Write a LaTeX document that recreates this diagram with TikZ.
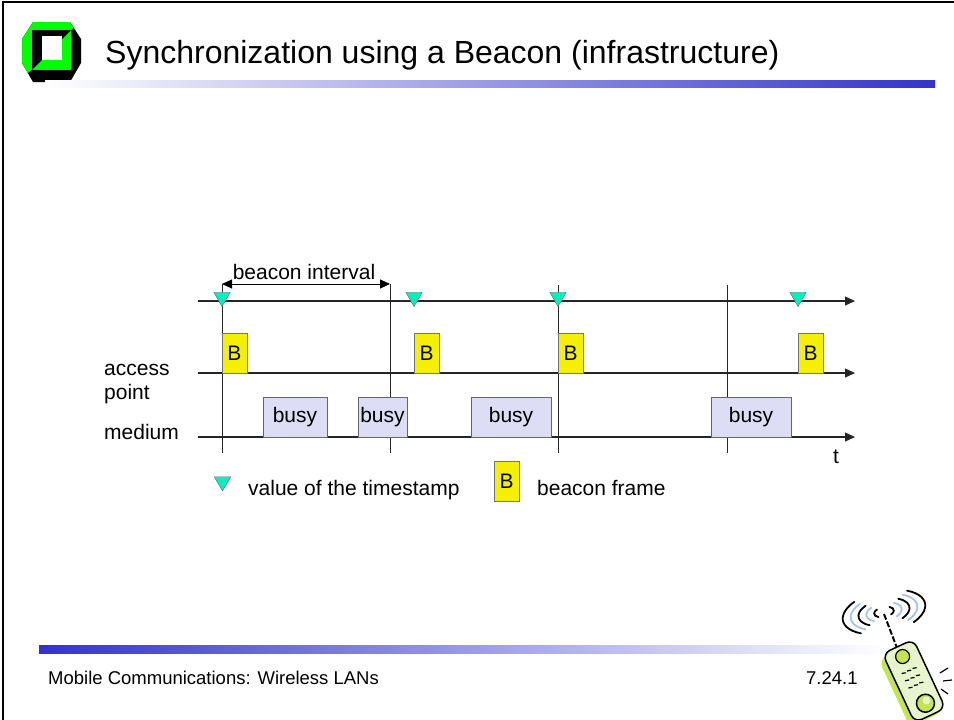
\documentclass[tikz,border=0pt]{standalone}
\usepackage{fontspec}
\setmainfont{Liberation Sans}
\usetikzlibrary{arrows.meta, shapes.geometric}
\definecolor{stampcyan}{RGB}{0, 240, 190}
\definecolor{beaconyellow}{RGB}{245, 240, 0}
\definecolor{busyblue}{RGB}{221, 221, 246}
\definecolor{barblue}{RGB}{51, 51, 204}
\definecolor{logogreen}{RGB}{0, 255, 0}
\definecolor{phonelight}{RGB}{232, 244, 205}
\definecolor{phonegreen}{RGB}{196, 228, 80}
\definecolor{waveblue}{RGB}{165, 195, 240}

\begin{document}
\begin{tikzpicture}[x=1pt, y=-1pt,
  every node/.style={inner sep=0pt},
  txt/.style={font=\fontsize{21}{24}\selectfont},
  axis/.style={line width=1.1pt, draw=black!85, -{Triangle[length=10pt, width=9pt]}},
  vline/.style={line width=1pt, draw=black!85},
  dimarr/.style={line width=1pt, {Triangle[length=10pt, width=9pt]}-{Triangle[length=10pt, width=9pt]}},
  bframe/.style={txt, draw=black!55, fill=beaconyellow, minimum width=25pt, minimum height=40pt},
  busybox/.style={txt, draw=black!60, fill=busyblue, minimum height=40pt},
  stamp/.style={regular polygon, regular polygon sides=3, shape border rotate=180,
    draw=black!60, fill=stampcyan, minimum size=19pt},
]
  \useasboundingbox (0,0) rectangle (954,720);
  \draw[line width=2pt] (3,720) -- (3,2) -- (954,2);

  % logo
  \begin{scope}
    \clip (33,22) -- (70,22) -- (81,39) -- (81,63) -- (70,82) -- (33,82) -- (22,63) -- (22,39) -- cycle;
    \fill[black] (20,20) rectangle (84,84);
    \fill[logogreen] (10,10) -- (91,10) -- (10,91) -- cycle;
  \end{scope}
  \fill[logogreen] (32,30) rectangle (71,70);
  \fill[black] (32,30) -- (71,30) -- (32,70) -- cycle;
  \fill[white] (42,36) rectangle (62,60);

  % title and bars
  \node[anchor=base west, font=\fontsize{32}{36}\selectfont] (title) at (105,63)
    {Synchronization using a Beacon (infrastructure)};
  \shade[left color=white, right color=barblue] (45,80) rectangle (935,87);
  \shade[left color=barblue, right color=white] (39,645) rectangle (885,653);
  \node[anchor=base west, font=\fontsize{18.5}{22}\selectfont] (footer) at (48,684)
    {Mobile Communications: Wireless LANs};
  \node[anchor=base west, font=\fontsize{18.5}{22}\selectfont] (slideno) at (806,684) {7.24.1};

  % time axes
  \coordinate (ts0) at (198,301);  \coordinate (ts9) at (855,301);
  \coordinate (ap0) at (198,373);  \coordinate (ap9) at (855,373);
  \coordinate (med0) at (198,437); \coordinate (med9) at (855,437);
  \draw[axis] (ts0) -- (ts9);
  \draw[axis] (ap0) -- (ap9);
  \draw[axis] (med0) -- (med9);

  % beacon interval boundaries
  \coordinate (v1a) at (222,284); \coordinate (v1b) at (222,453);
  \coordinate (v2a) at (390,284); \coordinate (v2b) at (390,453);
  \coordinate (v3a) at (558,285); \coordinate (v3b) at (558,453);
  \coordinate (v4a) at (727,285); \coordinate (v4b) at (727,453);
  \draw[vline] (v1a) -- (v1b);
  \draw[vline] (v2a) -- (v2b);
  \draw[vline] (v3a) -- (v3b);
  \draw[vline] (v4a) -- (v4b);
  \draw[dimarr] (v1a) -- (v2a);
  \node[txt, anchor=base] (interval) at (304,279) {beacon interval};

  % multi-line node: base is the last line
  \node[txt, anchor=base west, align=left] (lblap) at (104,399) {access\\point};
  \node[txt, anchor=base west] (lblmed) at (104,439) {medium};
  \node[txt, anchor=base] (lblt) at (836,463) {t};

  % medium busy
  \node[busybox, minimum width=64pt] (busy1) at (295,417) {busy};
  \node[busybox, minimum width=49pt] (busy2) at (382.5,417) {busy};
  \node[busybox, minimum width=80pt] (busy3) at (511,417) {busy};
  \node[busybox, minimum width=80pt] (busy4) at (751,417) {busy};

  % beacon frames
  \node[bframe] (b1) at (234.5,353) {B};
  \node[bframe] (b2) at (426.5,353) {B};
  \node[bframe] (b3) at (570.5,353) {B};
  \node[bframe] (b4) at (810.5,353) {B};

  % timestamps
  \node[stamp] (st1) at (222,297) {};
  \node[stamp] (st2) at (414,297) {};
  \node[stamp] (st3) at (558,297) {};
  \node[stamp] (st4) at (798,297) {};

  % legend
  \node[stamp] (keystamp) at (222.5,481.5) {};
  \node[txt, anchor=base west] (keystamptxt) at (248,495) {value of the timestamp};
  \node[bframe] (keyframe) at (506.5,481) {B};
  \node[txt, anchor=base west] (keyframetxt) at (537,495) {beacon frame};

  % phone with radio waves
  \begin{scope}[line cap=round, line width=1.8pt, rotate around={12:(884,612)}]
    \foreach \r/\c in {10/black, 18/waveblue, 26/black, 34/waveblue, 42/black} {
      \draw[\c] (884,612) ++({cos(130)*\r},{sin(130)*0.5*\r})
        arc[start angle=130, end angle=230, x radius=\r, y radius=0.5*\r];
      \draw[\c] (884,612) ++({cos(-50)*\r},{sin(-50)*0.5*\r})
        arc[start angle=-50, end angle=50, x radius=\r, y radius=0.5*\r];
    }
  \end{scope}
  \draw[line width=2pt, dash pattern=on 6pt off 2pt] (884,614) -- (897,648);
  \begin{scope}[shift={(914,681)}, rotate=25]
    \fill[phonegreen, rounded corners=8pt] (-23,-34) rectangle (12,40);
    \draw[line width=1.5pt, fill=phonelight, rounded corners=8pt] (-17,-38) rectangle (17,38);
    \draw[line width=1.2pt, fill=phonegreen] (0,-27) circle[radius=7];
    \draw[line width=1.5pt, fill=phonegreen] (1,25) circle[radius=9];
    \fill[phonelight] (3,23) circle[radius=4];
    \foreach \kx in {-6,0,6}
      \foreach \ky in {-12,-4,4}
        \draw[line width=1.2pt] (\kx-2,\ky) -- (\kx+2,\ky+1);
  \end{scope}
  \draw[line width=1.2pt] (940,673) -- (948,668);
  \draw[line width=1.2pt] (943,681) -- (952,680);
  \draw[line width=1.2pt] (941,689) -- (948,694);
\end{tikzpicture}
\end{document}
